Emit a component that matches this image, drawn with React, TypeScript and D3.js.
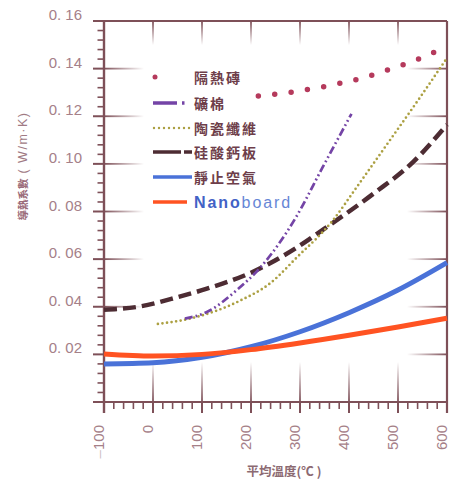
import React from 'react';
import * as d3 from 'd3';

// ---- data ----
const xTicks = [-100, 0, 100, 200, 300, 400, 500, 600];
const yTicks = [0.02, 0.04, 0.06, 0.08, 0.1, 0.12, 0.14, 0.16];
const yTickLabels = ['0. 02', '0. 04', '0. 06', '0. 08', '0. 10', '0. 12', '0. 14', '0. 16'];

const brickT = [215, 285, 350, 420, 490, 550, 592];
const brickK = [0.1285, 0.1302, 0.1325, 0.1357, 0.1402, 0.1447, 0.1487];

const woolT = [65, 110, 171, 217, 293, 346, 405];
const woolK = [0.035, 0.0378, 0.047, 0.056, 0.078, 0.0985, 0.121];

const ceramicT = [10, 75, 177, 240, 293, 366, 415, 482, 547, 600];
const ceramicK = [0.0328, 0.035, 0.0425, 0.05, 0.0606, 0.076, 0.09, 0.1095, 0.1285, 0.1445];

const calT = [-100, -30, 50, 110, 200, 290, 350, 450, 530, 600];
const calK = [0.0387, 0.04, 0.044, 0.0476, 0.0543, 0.0644, 0.0728, 0.0875, 0.1006, 0.1165];

const airT = [-100, 0, 100, 200, 300, 400, 500, 600];
const airK = [0.016, 0.0165, 0.0188, 0.0232, 0.0295, 0.0375, 0.047, 0.0585];

const nanoT = [-100, 0, 100, 200, 300, 400, 500, 600];
const nanoK = [0.0202, 0.0193, 0.02, 0.022, 0.0248, 0.028, 0.0315, 0.0352];

const legendNames = ['隔熱磚', '礦棉', '陶瓷纖維', '硅酸鈣板', '靜止空氣'];

const AX = '#7e5058';
const LBL = '#a58088';

export default function App() {
  const x = d3.scaleLinear().domain([-100, 600]).range([104, 447]);
  const y = d3.scaleLinear().domain([0, 0.16]).range([402, 21]);
  const line = d3
    .line<[number, number]>()
    .x((d) => x(d[0]))
    .y((d) => y(d[1]))
    .curve(d3.curveMonotoneX);
  const path = (t: number[], k: number[]) => line(t.map((v, i) => [v, k[i]] as [number, number])) || '';

  const minorX = d3.range(-100, 601, 20).filter((v) => v % 100 !== 0);
  const minorY = d3.range(0, 0.1601, 0.004).filter((v) => Math.abs(v / 0.02 - Math.round(v / 0.02)) > 0.01);

  const legY = [77, 103, 128, 152, 177, 202];

  return (
    <svg width={459} height={480} style={{ position: 'absolute', left: 0, top: 0, background: '#fff' }}>
      <defs>
        <linearGradient id="gl" x1="0" x2="1" y1="0" y2="0">
          <stop offset="0" stopColor={AX} stopOpacity="1" />
          <stop offset="1" stopColor={AX} stopOpacity="0" />
        </linearGradient>
        <linearGradient id="gr" x1="1" x2="0" y1="0" y2="0">
          <stop offset="0" stopColor={AX} stopOpacity="1" />
          <stop offset="1" stopColor={AX} stopOpacity="0" />
        </linearGradient>
        <linearGradient id="gb" x1="0" x2="0" y1="1" y2="0">
          <stop offset="0" stopColor={AX} stopOpacity="1" />
          <stop offset="1" stopColor={AX} stopOpacity="0" />
        </linearGradient>
        <linearGradient id="gt" x1="0" x2="0" y1="0" y2="1">
          <stop offset="0" stopColor={AX} stopOpacity="1" />
          <stop offset="1" stopColor={AX} stopOpacity="0" />
        </linearGradient>
      </defs>

      {/* grid stubs */}
      {yTicks.filter((v) => v < 0.159).map((v) => (
        <g key={'gs' + v}>
          <rect x={x(-100)} y={y(v) - 0.9} width={40} height={1.8} fill="url(#gl)" />
          <rect x={x(600) - 40} y={y(v) - 0.9} width={40} height={1.8} fill="url(#gr)" />
        </g>
      ))}
      {xTicks.filter((v) => v > -100 && v < 600).map((v) => (
        <g key={'gx' + v}>
          <rect x={x(v) - 0.9} y={y(0) - 40} width={1.8} height={40} fill="url(#gb)" />
          <rect x={x(v) - 0.9} y={y(0.16)} width={1.8} height={24} fill="url(#gt)" />
        </g>
      ))}

      {/* frame */}
      <line x1={93} x2={x(600)} y1={y(0.16)} y2={y(0.16)} stroke={AX} strokeWidth={2.2} />
      <line x1={x(600)} x2={x(600)} y1={y(0.16)} y2={413} stroke={AX} strokeWidth={2.2} />
      <line x1={x(-100)} x2={x(600)} y1={y(0)} y2={y(0)} stroke={AX} strokeWidth={2.2} />
      <line x1={x(-100)} x2={x(-100)} y1={y(0.16)} y2={413} stroke={AX} strokeWidth={2.4} />

      {/* y ticks */}
      {yTicks.map((v) => (
        <line key={'yt' + v} x1={93} x2={x(-100)} y1={y(v)} y2={y(v)} stroke={AX} strokeWidth={2} />
      ))}
      <line x1={93} x2={x(-100)} y1={y(0)} y2={y(0)} stroke={AX} strokeWidth={2} />
      {minorY.map((v) => (
        <line key={'ym' + v} x1={97.5} x2={x(-100)} y1={y(v)} y2={y(v)} stroke={AX} strokeWidth={1.6} />
      ))}
      {/* x ticks */}
      {xTicks.map((v) => (
        <line key={'xt' + v} x1={x(v)} x2={x(v)} y1={y(0)} y2={413} stroke={AX} strokeWidth={2} />
      ))}
      {minorX.map((v) => (
        <line key={'xm' + v} x1={x(v)} x2={x(v)} y1={y(0)} y2={409} stroke={AX} strokeWidth={1.6} />
      ))}

      {/* y tick labels */}
      {yTicks.map((v, i) => (
        <text
          key={'yl' + v}
          x={82}
          y={y(v) - 1}
          textAnchor="end"
          fontFamily="Liberation Sans, Arial, sans-serif"
          fontSize={15}
          fill={LBL}
        >
          {yTickLabels[i]}
        </text>
      ))}
      {/* x tick labels */}
      {xTicks.map((v) => (
        <text
          key={'xl' + v}
          transform={`translate(${x(v)},425) rotate(-90)`}
          textAnchor="end"
          fontFamily="Liberation Sans, Arial, sans-serif"
          fontSize={15}
          fill={LBL}
        >
          {v < 0 ? (
            <>
              <tspan fill="#cfc2c5">{'–'}</tspan>
              {String(Math.abs(v))}
            </>
          ) : (
            String(v)
          )}
        </text>
      ))}

      {/* axis titles */}
      <text
        x={284}
        y={476}
        textAnchor="middle"
        fontFamily="Noto Sans CJK TC, sans-serif"
        fontSize={12.5}
        fontWeight="bold"
        fill="#8c6a72"
      >
        平均溫度(℃ )
      </text>
      <text
        transform="translate(27,166) rotate(-90)"
        textAnchor="middle"
        fontFamily="Noto Sans CJK TC, sans-serif"
        fill="#a07a84"
      >
        <tspan fontSize={10.5} fontWeight="bold" fill="#9a6a78">導熱系數</tspan>
        <tspan fontSize={12.5} letterSpacing={1.5} fontFamily="Liberation Sans, Arial, sans-serif">{' ( W/m·K)'}</tspan>
      </text>

      {/* curves */}
      <path d={path(calT, calK)} fill="none" stroke="#4d2c33" strokeWidth={4.5} strokeDasharray="13 6" />
      <path d={path(ceramicT, ceramicK)} fill="none" stroke="#aca042" strokeWidth={2.7} strokeLinecap="round" strokeDasharray="0 4.6" />
      <path d={path(woolT, woolK)} fill="none" stroke="#7444a6" strokeWidth={2.7} strokeDasharray="8 3 1.8 3 1.8 3" />
      <path d={path(brickT, brickK)} fill="none" stroke="#b53a5c" strokeWidth={5.5} strokeLinecap="round" strokeDasharray="0 16.5" />
      <path d={path(airT, airK)} fill="none" stroke="#4a72d8" strokeWidth={5} />
      <path d={path(nanoT, nanoK)} fill="none" stroke="#ff5322" strokeWidth={5} />

      {/* legend */}
      <line x1={155} x2={175} y1={legY[0]} y2={legY[0]} stroke="#b53a5c" strokeWidth={5} strokeLinecap="round" strokeDasharray="0 20" />
      <line x1={153} x2={190} y1={legY[1]} y2={legY[1]} stroke="#7444a6" strokeWidth={3.5} strokeDasharray="24 5 2.5 20" />
      <line x1={154} x2={190} y1={legY[2]} y2={legY[2]} stroke="#aca042" strokeWidth={2.4} strokeLinecap="round" strokeDasharray="0 5" />
      <line x1={153} x2={192} y1={legY[3]} y2={legY[3]} stroke="#4d2c33" strokeWidth={3.5} strokeDasharray="28 3 8 10" />
      <line x1={153} x2={192} y1={legY[4]} y2={legY[4]} stroke="#4a72d8" strokeWidth={3.5} />
      <line x1={153} x2={187} y1={legY[5]} y2={legY[5]} stroke="#ff5322" strokeWidth={3.5} />
      {legendNames.map((n, i) => (
        <text
          key={n}
          x={194}
          y={legY[i] + 5.5}
          fontFamily="Noto Sans CJK TC, sans-serif"
          fontSize={14}
          fontWeight="bold"
          letterSpacing={2}
          fill="#6e3e4a"
        >
          {n}
        </text>
      ))}
      <text x={194} y={legY[5] + 5.5} fontFamily="Liberation Sans, Arial, sans-serif" fontSize={16} letterSpacing={1.9}>
        <tspan fontWeight="bold" fill="#4262c6">Nano</tspan>
        <tspan fill="#6686d6">board</tspan>
      </text>
    </svg>
  );
}
